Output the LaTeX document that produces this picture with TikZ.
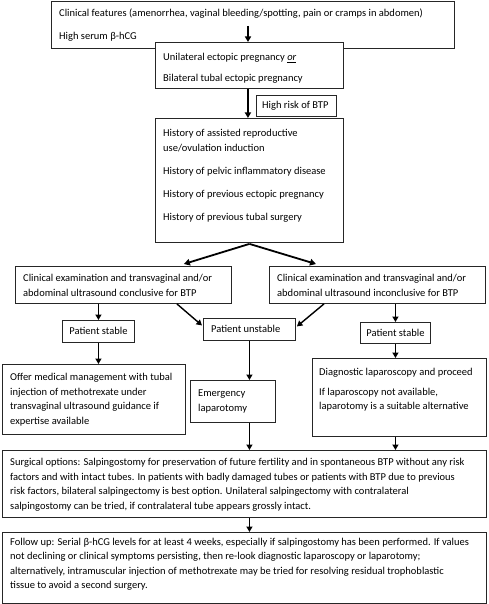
\documentclass[tikz,border=0pt]{standalone}
\usepackage{fontspec}
\setmainfont{Carlito}
\usetikzlibrary{arrows.meta,calc}
\newcommand\tl[1]{\begin{tabular}[t]{@{}l@{}}#1\end{tabular}}
\tikzset{
  box/.style={draw=black!85, line width=0.9pt, fill=white, rectangle, inner sep=0pt, anchor=north west},
  txt/.style={inner sep=0pt, anchor=base west, font=\fontsize{10.5}{14.5}\selectfont},
  ctxt/.style={inner sep=0pt, anchor=base, font=\fontsize{10.5}{14.5}\selectfont},
  arr/.style={line width=1.4pt, -{Triangle[length=5.5pt,width=6pt]}},
  chev/.style={line width=1.8pt, -{Triangle[length=6pt,width=6.5pt]}}
}
\newcommand\mkbox[5]{\node[box, minimum width={#4-#2}, minimum height={#5-#3}] (#1) at (#2,#3) {};}
\begin{document}
\begin{tikzpicture}[x=1pt,y=-1pt]
\useasboundingbox (0,0) rectangle (489,604);
% boxes
\mkbox{b1}{51}{1}{454}{48}
\coordinate (a1s) at (248,26);
\draw[arr] (a1s) -- (a1s |- 0,42);
\mkbox{b2}{155}{42}{343}{88}
\mkbox{hr}{256}{95}{336}{116}
\mkbox{b4}{155}{118}{343}{242}
\mkbox{b5}{15}{266}{231}{303}
\mkbox{b6}{269}{266}{485}{303}
\mkbox{ps1}{62}{320}{134}{342}
\mkbox{pu}{203}{318}{295}{340}
\mkbox{ps2}{360}{322}{430}{343}
\mkbox{b7}{2}{364}{185}{434}
\mkbox{em}{190}{380}{275}{422}
\mkbox{dg}{312}{358}{486}{436}
\mkbox{sg}{2}{450}{486}{517}
\mkbox{fu}{2}{532}{486}{603}
% texts
\node[txt] (t1) at (59,16.5) {\tl{Clinical features (amenorrhea, vaginal bleeding/spotting, pain or cramps in abdomen)\\[8.5pt]High serum β-hCG}};
\node[txt] (t2) at (163,60.5) {\tl{Unilateral ectopic pregnancy \underline{\textit{or}}\\[6.5pt]Bilateral tubal ectopic pregnancy}};
\node[txt] (t3) at (262,109) {High risk of BTP};
\node[txt] (t4) at (163,136.5) {\tl{History of assisted reproductive\\use/ovulation induction\\[8.5pt]History of pelvic inflammatory disease\\[8.5pt]History of previous ectopic pregnancy\\[8.5pt]History of previous tubal surgery}};
\node[txt] (t5) at (23,281.5) {\tl{Clinical examination and transvaginal and/or\\abdominal ultrasound conclusive for BTP}};
\node[txt] (t6) at (277,281.5) {\tl{Clinical examination and transvaginal and/or\\abdominal ultrasound inconclusive for BTP}};
\node[ctxt] (t7) at ($(ps1.center)+(0,3.5)$) {Patient stable};
\node[txt] (t8) at (211,332.5) {Patient unstable};
\node[ctxt] (t9) at ($(ps2.center)+(0,3.5)$) {Patient stable};
\node[txt] (t10) at (10,380.5) {\tl{Offer medical management with tubal\\injection of methotrexate under\\transvaginal ultrasound guidance if\\expertise available}};
\node[txt] (t11) at (198,396.5) {\tl{Emergency\\laparotomy}};
\node[txt] (t12) at (319,375.5) {\tl{Diagnostic laparoscopy and proceed\\[5pt]If laparoscopy not available,\\laparotomy is a suitable alternative}};
\node[txt] (t13) at (10,465.5) {\tl{Surgical options: Salpingostomy for preservation of future fertility and in spontaneous BTP without any risk\\factors and with intact tubes. In patients with badly damaged tubes or patients with BTP due to previous\\risk factors, bilateral salpingectomy is best option. Unilateral salpingectomy with contralateral\\salpingostomy can be tried, if contralateral tube appears grossly intact.}};
\node[txt] (t14) at (10,545) {\tl{Follow up: Serial β-hCG levels for at least 4 weeks, especially if salpingostomy has been performed. If values\\not declining or clinical symptoms persisting, then re-look diagnostic laparoscopy or laparotomy;\\alternatively, intramuscular injection of methotrexate may be tried for resolving residual trophoblastic\\tissue to avoid a second surgery.}};
% connectors
\draw[arr] ([xshift=-1.5pt]b2.south) -- ([xshift=-1.5pt]b4.north);
\draw[chev] ([yshift=-1pt]b4.south) -- ([xshift=-48pt,yshift=2pt]b5.north east);
\draw[chev] ([yshift=-1pt]b4.south) -- ([xshift=47pt,yshift=2pt]b6.north west);
\draw[arr] (ps1.north |- b5.south) -- (ps1.north);
\draw[arr] ([xshift=-55pt]b5.south east) -- ([xshift=-1pt,yshift=4pt]pu.west);
\draw[arr] ([xshift=55pt]b6.south west) -- ([xshift=1pt,yshift=3pt]pu.east);
\draw[arr] (ps2.north |- b6.south) -- (ps2.north);
\draw[arr] (ps1.south) -- (ps1.south |- b7.north);
\draw[arr] (pu.south) -- (pu.south |- em.north);
\draw[arr] (ps2.south) -- (ps2.south |- dg.north);
\draw[arr] (pu.south |- em.south) -- (pu.south |- sg.north);
\draw[arr] (ps2.south |- dg.south) -- (ps2.south |- sg.north);
\draw[arr] (pu.south |- sg.south) -- (pu.south |- fu.north);
\end{tikzpicture}
\end{document}
